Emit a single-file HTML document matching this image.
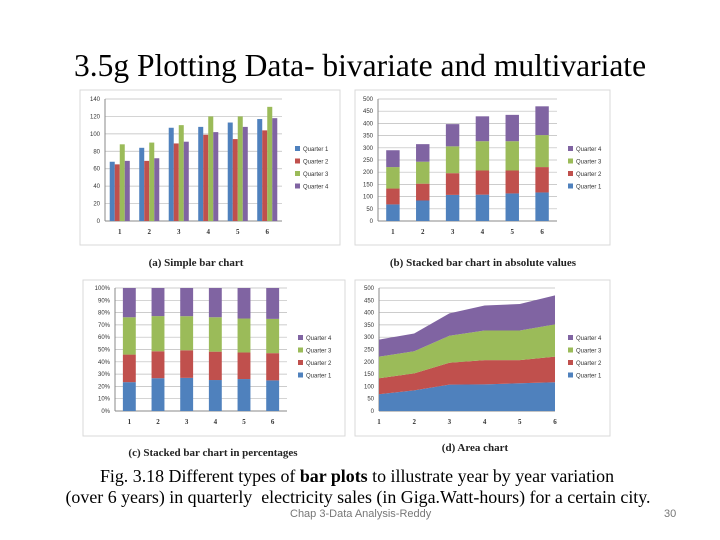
<!DOCTYPE html>
<html><head><meta charset="utf-8"><style>
body{margin:0;width:720px;height:540px;background:#fff;position:relative;overflow:hidden;font-family:"Liberation Serif",serif}
.t{position:absolute;white-space:nowrap}
</style></head><body>
<div class="t" style="left:0;width:720px;text-align:center;top:48px;font-size:31.5px;">3.5g Plotting Data- bivariate and multivariate</div>
<svg id="s" width="720" height="540" style="position:absolute;left:0;top:0"></svg>
<div class="t" style="left:0;width:714px;text-align:center;top:466px;font-size:17.9px;">Fig. 3.18 Different types of <b>bar plots</b> to illustrate year by year variation</div>
<div class="t" style="left:0;width:716px;text-align:center;top:487px;font-size:17.9px;">(over 6 years) in quarterly&nbsp; electricity sales (in Giga.Watt-hours) for a certain city.</div>
<div class="t" style="left:290px;top:508px;font-size:11px;color:#777;font-family:'Liberation Sans',sans-serif">Chap 3-Data Analysis-Reddy</div>
<div class="t" style="left:664px;top:508px;font-size:11px;color:#777;font-family:'Liberation Sans',sans-serif">30</div>
<script>
const categories=["1","2","3","4","5","6"];
const seriesNames=["Quarter 1","Quarter 2","Quarter 3","Quarter 4"];
const q1=[68,84,107,108,113,117];
const q2=[65,69,89,99,94,104];
const q3=[88,90,110,120,120,131];
const q4=[69,72,91,102,108,118];
const ticksA=[0,20,40,60,80,100,120,140];
const ticksB=[0,50,100,150,200,250,300,350,400,450,500];
const ticksC=[0,10,20,30,40,50,60,70,80,90,100];
const series=[q1,q2,q3,q4];
const colors=["#4f81bd","#c0504d","#9bbb59","#8064a2"];
const S=document.getElementById('s');
const NS="http://www.w3.org/2000/svg";
function el(tag,a,txt){const e=document.createElementNS(NS,tag);for(const k in a)e.setAttribute(k,a[k]);if(txt!=null)e.textContent=txt;S.appendChild(e);return e;}
function frame(x,y,w,h,cap,cx,cy,name){
 const r=el('rect',{x:x,y:y,width:w,height:h,fill:'#fff',stroke:'#d9d9d9'});
 
 
 const t=el('text',{x:cx,y:cy,'font-size':11,'font-weight':'bold','font-family':'Liberation Serif,serif','text-anchor':'middle',fill:'#222'},cap);
 
 
}
function axes(L,R,T,B,ticks,max,fmt,name,edge){
 const y=v=>B-(B-T)*v/max;
 ticks.forEach(v=>{
  const g=el('line',{x1:L,x2:R,y1:y(v),y2:y(v),stroke:'#bbb','stroke-width':0.7});
  
  
  const t=el('text',{x:L-5,y:y(v)+2,'font-size':6,'text-anchor':'end',fill:'#333','font-family':'Liberation Sans,sans-serif'},fmt(v));
  
  
 });
 el('line',{x1:L,x2:L,y1:T,y2:B,stroke:'#888'});
 el('line',{x1:L,x2:R,y1:B,y2:B,stroke:'#888'});
 const n=categories.length;
 categories.forEach((c,i)=>{
  const cx=edge?L+(R-L)*i/(n-1):L+(R-L)*(i+0.5)/n;
  const t=el('text',{x:cx,y:B+13,'font-size':7,'font-weight':'bold','text-anchor':'middle',fill:'#333','font-family':'Liberation Serif,serif'},c);
  
  
 });
 return y;
}
function legend(x,y0,order,name){
 order.forEach((k,j)=>{
  const yy=y0+j*12.5;
  el('rect',{x:x,y:yy-3,width:5,height:5,fill:colors[k]});
  const t=el('text',{x:x+8,y:yy+2,'font-size':6,fill:'#333','font-family':'Liberation Sans,sans-serif'},seriesNames[k]);
  
  
 });
}
// (a)
frame(80,90,260,155,'(a) Simple bar chart',196,266,'chart-a');
{const L=105,R=282,T=99,B=221;const y=axes(L,R,T,B,ticksA,140,v=>v,'chart-a',false);
 const gw=(R-L)/6,bw=gw*0.17;
 categories.forEach((c,i)=>series.forEach((s,k)=>{
  const b=el('rect',{x:L+gw*i+gw*0.16+k*bw,y:y(s[i]),width:bw,height:B-y(s[i]),fill:colors[k]});
  
  
 }));
 legend(295,149,[0,1,2,3],'chart-a');}
// (b)
frame(355,90,255,155,'(b) Stacked bar chart in absolute values',483,266,'chart-b');
{const L=378,R=557,T=99,B=221;const y=axes(L,R,T,B,ticksB,500,v=>v,'chart-b',false);
 const gw=(R-L)/6,bw=gw*0.45;
 categories.forEach((c,i)=>{let acc=0;series.forEach((s,k)=>{
  const b=el('rect',{x:L+gw*i+(gw-bw)/2,y:y(acc+s[i]),width:bw,height:y(acc)-y(acc+s[i]),fill:colors[k]});
  
  
  acc+=s[i];});});
 legend(568,149,[3,2,1,0],'chart-b');}
// (c)
frame(83,280,262,156,'(c) Stacked bar chart in percentages',213,456,'chart-c');
{const L=115,R=287,T=288,B=411;const y=axes(L,R,T,B,ticksC,100,v=>v+'%','chart-c',false);
 const gw=(R-L)/6,bw=gw*0.45;
 categories.forEach((c,i)=>{const tot=series.reduce((a,s)=>a+s[i],0);let acc=0;series.forEach((s,k)=>{
  const p=s[i]/tot*100;
  const b=el('rect',{x:L+gw*i+(gw-bw)/2,y:y(acc+p),width:bw,height:y(acc)-y(acc+p),fill:colors[k]});
  
  
  acc+=p;});});
 legend(298,338,[3,2,1,0],'chart-c');}
// (d)
frame(355,280,255,156,'(d) Area chart',475,451,'chart-d');
{const L=379,R=555,T=288,B=411;const y=axes(L,R,T,B,ticksB,500,v=>v,'chart-d',true);
 const x=i=>L+(R-L)*i/(categories.length-1);
 let base=categories.map(()=>0);
 series.forEach((s,k)=>{
  const top=base.map((b,i)=>b+s[i]);
  let d='M'+categories.map((c,i)=>x(i)+','+y(top[i])).join(' L');
  for(let i=categories.length-1;i>=0;i--)d+=' L'+x(i)+','+y(base[i]);
  const p=el('path',{d:d+'Z',fill:colors[k]});
  
  
  base=top;});
 legend(568,338,[3,2,1,0],'chart-d');}
</script>
</body></html>
